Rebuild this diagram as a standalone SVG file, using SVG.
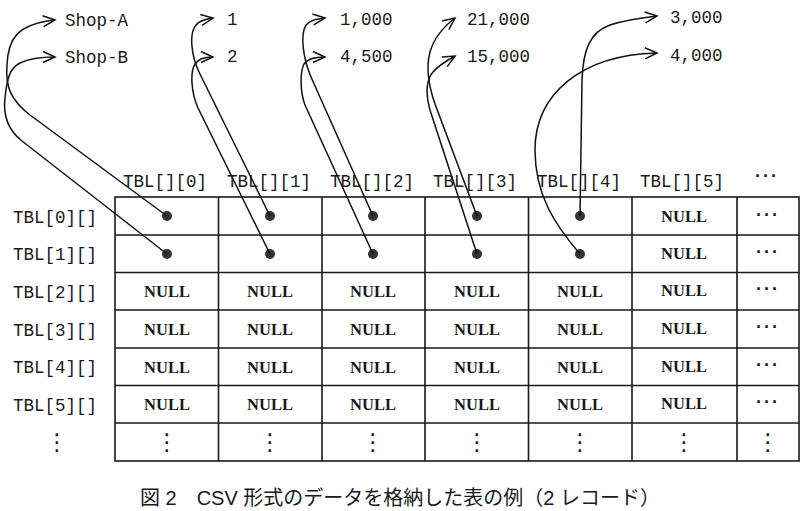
<svg xmlns="http://www.w3.org/2000/svg" width="805" height="511" viewBox="0 0 805 511">
<style>
.mono{font-family:"Liberation Mono","Courier New",monospace;fill:#1a1a1a}
.top{font-size:17.5px}
.lbl{font-size:17.5px}
.null{font-family:"Liberation Serif","Times New Roman",serif;font-weight:bold;font-size:16.5px;fill:#1a1a1a;text-anchor:middle}
.dots{font-family:"Liberation Sans",Arial,sans-serif;font-weight:bold;font-size:18px;fill:#1a1a1a;text-anchor:middle;letter-spacing:2px}
.vd{font-family:"DejaVu Sans",sans-serif;font-size:23px;fill:#1a1a1a;text-anchor:middle}
.grid{stroke:#1a1a1a;stroke-width:1.6;fill:none}
.conn{stroke:#111;stroke-width:1.5;fill:none;marker-end:url(#arr)}
.dot{fill:#333}
.cap{font-family:"Liberation Sans","Noto Sans CJK JP",sans-serif;font-size:20px;fill:#1a1a1a}
</style>
<defs>
<marker id="arr" markerUnits="userSpaceOnUse" markerWidth="16" markerHeight="16" viewBox="0 0 16 16" refX="13" refY="7" orient="auto">
<path d="M1,1.5 L13,7 L1,12.5" fill="none" stroke="#111" stroke-width="1.5"/>
</marker>
</defs>
<rect width="805" height="511" fill="#fff"/>

<g id="values">
<g id="shop-a"><text class="mono top" x="65" y="26">Shop-A</text></g>
<g id="shop-b"><text class="mono top" x="65" y="63">Shop-B</text></g>
<g id="v1"><text class="mono top" x="227" y="25">1</text></g>
<g id="v2"><text class="mono top" x="227" y="62">2</text></g>
<g id="v1000"><text class="mono top" x="340" y="25">1,000</text></g>
<g id="v4500"><text class="mono top" x="340" y="62">4,500</text></g>
<g id="v21000"><text class="mono top" x="467" y="25">21,000</text></g>
<g id="v15000"><text class="mono top" x="467" y="62">15,000</text></g>
<g id="v3000"><text class="mono top" x="670" y="23">3,000</text></g>
<g id="v4000"><text class="mono top" x="670" y="61">4,000</text></g>
</g>

<g id="col-headers">
<text class="mono lbl" x="123" y="187">TBL[][0]</text>
<text class="mono lbl" x="227" y="187">TBL[][1]</text>
<text class="mono lbl" x="330" y="187">TBL[][2]</text>
<text class="mono lbl" x="433" y="187">TBL[][3]</text>
<text class="mono lbl" x="537" y="187">TBL[][4]</text>
<text class="mono lbl" x="640" y="187">TBL[][5]</text>
<text class="dots" x="767" y="182">···</text>
</g>

<g id="row-headers">
<text class="mono lbl" x="13" y="223">TBL[0][]</text>
<text class="mono lbl" x="13" y="260">TBL[1][]</text>
<text class="mono lbl" x="13" y="298">TBL[2][]</text>
<text class="mono lbl" x="13" y="336">TBL[3][]</text>
<text class="mono lbl" x="13" y="373">TBL[4][]</text>
<text class="mono lbl" x="13" y="411">TBL[5][]</text>
<text class="vd" x="57" y="450">⋮</text>
</g>

<g id="table">
<rect class="grid" x="115" y="197" width="684" height="264"/>
<path class="grid" d="M218.5,197V461M322,197V461M425,197V461M528.5,197V461M632,197V461M737,197V461"/>
<path class="grid" d="M115,235H799M115,272.5H799M115,310H799M115,348H799M115,385.5H799M115,423H799"/>
<g id="cells-null">
<text class="null" x="684" y="222">NULL</text>
<text class="null" x="684" y="259">NULL</text>
<text class="null" x="167" y="297">NULL</text><text class="null" x="270" y="297">NULL</text><text class="null" x="373" y="297">NULL</text><text class="null" x="477" y="297">NULL</text><text class="null" x="580" y="297">NULL</text><text class="null" x="684" y="296">NULL</text>
<text class="null" x="167" y="335">NULL</text><text class="null" x="270" y="335">NULL</text><text class="null" x="373" y="335">NULL</text><text class="null" x="477" y="335">NULL</text><text class="null" x="580" y="335">NULL</text><text class="null" x="684" y="334">NULL</text>
<text class="null" x="167" y="373">NULL</text><text class="null" x="270" y="373">NULL</text><text class="null" x="373" y="373">NULL</text><text class="null" x="477" y="373">NULL</text><text class="null" x="580" y="373">NULL</text><text class="null" x="684" y="372">NULL</text>
<text class="null" x="167" y="410">NULL</text><text class="null" x="270" y="410">NULL</text><text class="null" x="373" y="410">NULL</text><text class="null" x="477" y="410">NULL</text><text class="null" x="580" y="410">NULL</text><text class="null" x="684" y="409">NULL</text>
</g>
<g id="cells-more">
<text class="dots" x="768" y="221">···</text>
<text class="dots" x="768" y="258">···</text>
<text class="dots" x="768" y="295">···</text>
<text class="dots" x="768" y="333">···</text>
<text class="dots" x="768" y="371">···</text>
<text class="dots" x="768" y="408">···</text>
<text class="vd" x="167" y="450">⋮</text><text class="vd" x="270" y="450">⋮</text><text class="vd" x="373" y="450">⋮</text><text class="vd" x="477" y="450">⋮</text><text class="vd" x="580" y="450">⋮</text><text class="vd" x="684" y="450">⋮</text><text class="vd" x="768" y="450">⋮</text>
</g>
<g id="pointers">
<circle class="dot" cx="167" cy="216" r="5"/><circle class="dot" cx="270" cy="216" r="5"/><circle class="dot" cx="373" cy="216" r="5"/><circle class="dot" cx="477" cy="216" r="5"/><circle class="dot" cx="580" cy="216" r="5"/>
<circle class="dot" cx="167" cy="254" r="5"/><circle class="dot" cx="270" cy="254" r="5"/><circle class="dot" cx="373" cy="254" r="5"/><circle class="dot" cx="477" cy="254" r="5"/><circle class="dot" cx="580" cy="254" r="5"/>
</g>
</g>

<g id="connectors">
<path class="conn" d="M167,216 L30,115 C12,101 5,88 7,65 C8,40 16,24 55,20"/>
<path class="conn" d="M167,254 L22,141 C8,130 3,115 5,98 C7,78 10,68 20,63 C30,58 42,57 55,57"/>
<path class="conn" d="M270,216 L199,72 C191,55 189,33 196,25 C200,20 207,19 213,18"/>
<path class="conn" d="M270,254 L198,108 C191,92 190,72 195,64 C198,59 205,57 213,57"/>
<path class="conn" d="M373,216 L311,77 C303,58 300,35 306,25 C310,20 317,19 325,18"/>
<path class="conn" d="M373,254 L305,105 C300,92 300,72 304,64 C307,59 315,57 325,57"/>
<path class="conn" d="M477,216 L438,112 C430,92 425,70 430,52 C434,38 442,28 455,18"/>
<path class="conn" d="M477,254 L430,110 C426,95 426,80 433,72 C438,66 446,61 455,56"/>
<path class="conn" d="M580,216 L582,80 C583,50 590,32 610,25 C625,20 640,18 657,16"/>
<path class="conn" d="M580,254 C555,225 535,195 535,150 C535,95 580,55 657,53"/>
</g>

<g id="caption">
<text class="cap" x="140" y="505">図 2　CSV 形式のデータを格納した表の例（2 レコード）</text>
</g>
</svg>
